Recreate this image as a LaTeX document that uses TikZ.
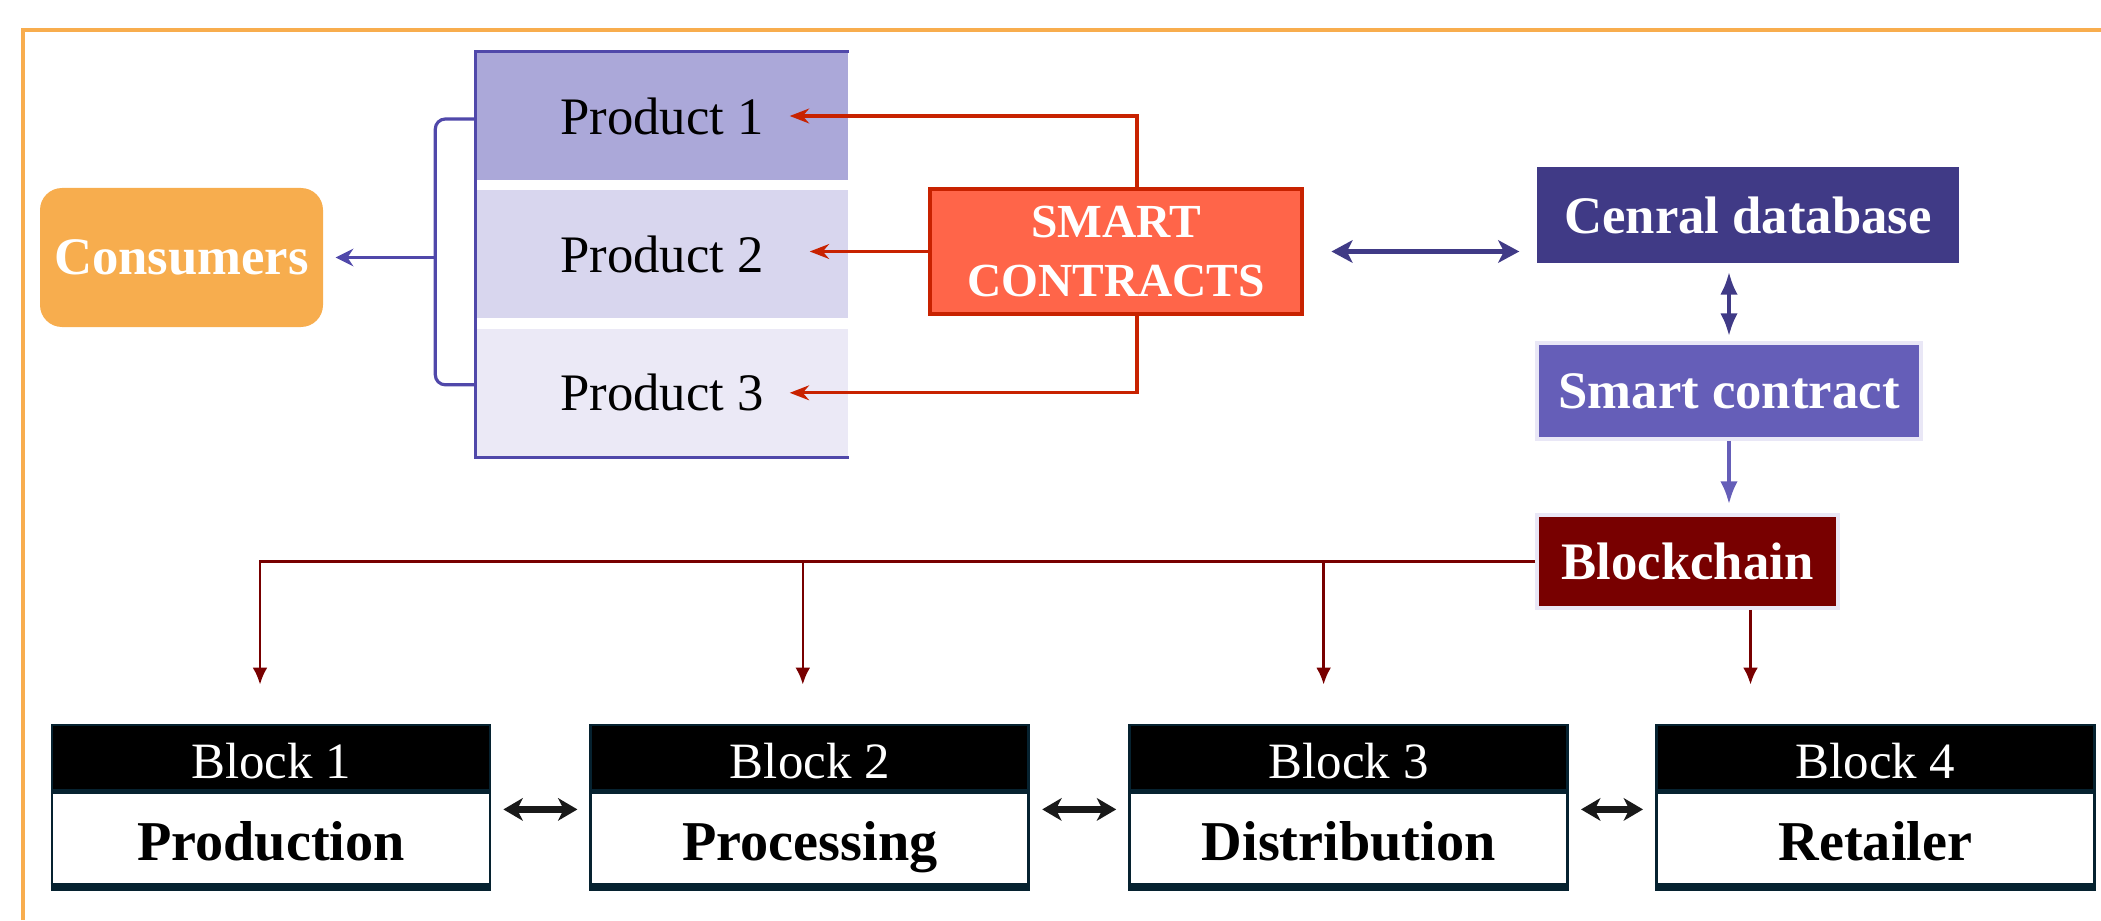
\documentclass[tikz,border=0pt]{standalone}
\usepackage{fontspec}
\setmainfont{Liberation Serif}
\usepackage{tikz}
\usetikzlibrary{arrows.meta, positioning}
\definecolor{frameorange}{HTML}{F8AD4E}
\definecolor{consorange}{HTML}{F7AD4E}
\definecolor{stackpurple}{HTML}{5048AA}
\definecolor{prodA}{HTML}{ABA8D9}
\definecolor{prodB}{HTML}{D8D6EE}
\definecolor{prodC}{HTML}{EBE9F6}
\definecolor{smartfill}{HTML}{FF6549}
\definecolor{smartred}{HTML}{C82200}
\definecolor{dbblue}{HTML}{403A86}
\definecolor{scpurple}{HTML}{655EB8}
\definecolor{paleedge}{HTML}{E9E7F6}
\definecolor{chainred}{HTML}{780000}
\definecolor{blockline}{HTML}{062230}

\begin{document}
\begin{tikzpicture}[
  >=Stealth,
  node distance=0pt,
  prodcell/.style={
    rectangle, inner sep=0pt,
    minimum width=3.72cm, minimum height=1.28cm,
    font=\fontsize{15}{18}\selectfont,
  },
  colorbox/.style={
    rectangle, inner sep=0pt, text=white,
    font=\fontsize{15}{18}\selectfont\bfseries,
  },
  blockhead/.style={
    rectangle, inner sep=0pt,
    draw=blockline, line width=0.8pt, fill=black, text=white,
    minimum width=4.38cm, minimum height=0.65cm,
    text height=12.2pt, text depth=0pt,
    font=\fontsize{14.5}{17}\selectfont,
  },
  blockbody/.style={
    rectangle, inner sep=0pt,
    draw=blockline, line width=0.8pt, fill=white,
    minimum width=4.38cm, minimum height=0.97cm,
    text height=11pt, text depth=0pt,
    font=\fontsize{16}{19}\selectfont\bfseries,
  },
  redarrow/.style={->, >={Stealth[length=5.5pt, width=4.2pt]}, line width=0.9pt, smartred},
  busarrow/.style={->, >={Latex[length=4.8pt, width=4.2pt]}, line width=0.75pt, chainred},
  chainarrow/.style={<->, >={Stealth[length=5.5pt, width=6.4pt, inset=1.6pt]}, line width=2pt, black!90,
    shorten <=1.2mm, shorten >=1.2mm},
  dbarrow/.style={<->, >={Stealth[length=6pt, width=6.4pt, inset=1.6pt]}, line width=1.7pt, dbblue},
]
\useasboundingbox (0,0) rectangle (21.01,9.20);

% ── Frame
\draw[frameorange, line width=1.1pt] (0.23,0) |- (21.01,8.90);

% ── Products stack
\node[prodcell, fill=prodA] (prodOne) at (6.62,8.04) {Product 1};
\node[prodcell, fill=prodB, below=0.09cm of prodOne] (prodTwo) {Product 2};
\node[prodcell, fill=prodC, below=0.09cm of prodTwo] (prodThree) {Product 3};

\draw[stackpurple, line width=1pt] (prodOne.north east) -- (prodOne.north west)
  -- (prodThree.south west) -- (prodThree.south east);

% ── Consumers
\node[colorbox, fill=consorange, rounded corners=2.2mm,
      minimum width=2.83cm, minimum height=1.39cm,
      font=\fontsize{15}{18}\selectfont\bfseries] (consumers) at (1.815,6.625) {Consumers};

\draw[stackpurple, line width=0.9pt, rounded corners=1mm]
  ([yshift=-0.03cm]prodOne.west) -- ++(-0.4,0) |- ([yshift=0.08cm]prodThree.west);
\draw[->, >={Stealth[length=5pt, width=5pt]}, stackpurple, line width=0.9pt, shorten >=1.2mm]
  ([xshift=-4mm]prodTwo.west |- consumers.east) -- (consumers.east);

% ── Smart contracts
\node[colorbox, fill=smartfill, draw=smartred, line width=1.4pt,
      minimum width=3.72cm, minimum height=1.25cm, align=center,
      font=\fontsize{13.5}{16.8}\selectfont\bfseries] (smart) at (11.16,6.685)
  {SMART\\CONTRACTS};

\draw[redarrow] ([xshift=2.1mm]smart.north) |- ([xshift=-5.9mm]prodOne.east);
\draw[redarrow] (smart.west) -- ([xshift=-3.9mm]prodTwo.east |- smart.west);
\draw[redarrow] ([xshift=2.1mm]smart.south) |- ([xshift=-5.9mm]prodThree.east);

% ── Database side
\node[colorbox, fill=dbblue, minimum width=4.22cm, minimum height=0.96cm] (cenralDb)
  at (17.48,7.05) {Cenral database};
\node[colorbox, fill=scpurple, draw=paleedge, line width=1pt,
      minimum width=3.84cm, minimum height=0.96cm] (smartContract)
  at (17.29,5.29) {Smart contract};
\node[colorbox, fill=chainred, draw=paleedge, line width=1pt,
      minimum width=3.01cm, minimum height=0.93cm] (blockchain)
  at (16.875,3.585) {Blockchain};

\draw[dbarrow, shorten <=2.7mm, shorten >=1.7mm] (smart.east) -- (smart.east -| cenralDb.west);
\draw[<->, >={Latex[length=6.5pt, width=5pt]}, dbblue, line width=1.2pt,
      shorten <=0.8mm, shorten >=0.5mm]
  (smartContract.north |- cenralDb.south) -- (smartContract.north);
\draw[->, >={Latex[length=6.5pt, width=5pt]}, scpurple, line width=1.1pt, shorten >=0.9mm]
  (smartContract.south) -- (smartContract.south |- blockchain.north);

% ── Blocks
\node[blockhead] (blkOneHead) at (2.71,1.625) {Block 1};
\node[blockbody, below=0pt of blkOneHead] (blkOneBody) {Production};

\node[blockhead, right=0.98cm of blkOneHead] (blkTwoHead) {Block 2};
\node[blockbody, below=0pt of blkTwoHead] (blkTwoBody) {Processing};

\node[blockhead, right=0.98cm of blkTwoHead] (blkThreeHead) {Block 3};
\node[blockbody, below=0pt of blkThreeHead] (blkThreeBody) {Distribution};

\node[blockhead, right=0.86cm of blkThreeHead] (blkFourHead) {Block 4};
\node[blockbody, below=0pt of blkFourHead] (blkFourBody) {Retailer};

\draw[blockline, line width=2.2pt] ([yshift=1.1pt]blkOneBody.south west) -- ([yshift=1.1pt]blkOneBody.south east);
\draw[blockline, line width=2.2pt] ([yshift=1.1pt]blkTwoBody.south west) -- ([yshift=1.1pt]blkTwoBody.south east);
\draw[blockline, line width=2.2pt] ([yshift=1.1pt]blkThreeBody.south west) -- ([yshift=1.1pt]blkThreeBody.south east);
\draw[blockline, line width=2.2pt] ([yshift=1.1pt]blkFourBody.south west) -- ([yshift=1.1pt]blkFourBody.south east);

% ── Blockchain bus
\draw[busarrow, shorten >=3.9mm] (blockchain.west) -| ([xshift=-1.1mm]blkOneHead.north);
\draw[busarrow, shorten >=3.9mm] ([xshift=-0.7mm]blkTwoHead.north |- blockchain.west)
  -- ([xshift=-0.7mm]blkTwoHead.north);
\draw[busarrow, shorten >=3.9mm] ([xshift=-2.5mm]blkThreeHead.north |- blockchain.west)
  -- ([xshift=-2.5mm]blkThreeHead.north);
\draw[busarrow, shorten >=3.9mm] ([xshift=6.3mm]blockchain.south)
  -- ([xshift=6.3mm]blockchain.south |- blkFourHead.north);

% ── Chain links
\draw[chainarrow] ([yshift=-1.8mm]blkOneBody.north east) -- ([yshift=-1.8mm]blkTwoBody.north west);
\draw[chainarrow] ([yshift=-1.8mm]blkTwoBody.north east) -- ([yshift=-1.8mm]blkThreeBody.north west);
\draw[chainarrow] ([yshift=-1.8mm]blkThreeBody.north east) -- ([yshift=-1.8mm]blkFourBody.north west);

\end{tikzpicture}
\end{document}
